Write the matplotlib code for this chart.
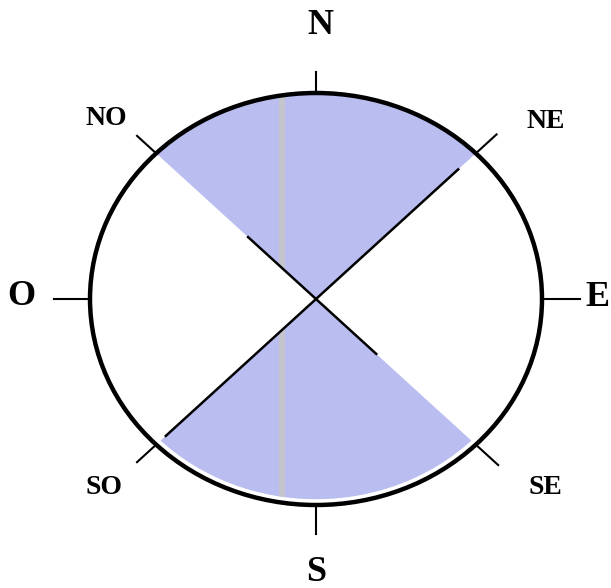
import numpy as np
import matplotlib
matplotlib.use('Agg')
import matplotlib.pyplot as plt
from matplotlib.patches import Circle, Wedge

# compass directions (Spanish labels), angle in degrees from east, counter-clockwise
labels = ['E', 'NE', 'N', 'NO', 'O', 'SO', 'S', 'SE']
angles = [0, 45, 90, 135, 180, 225, 270, 315]
tick_len = [0.17, 0.13, 0.10, 0.12, 0.16, 0.12, 0.14, 0.14]
# label positions in circle-radius units
label_x = [1.245, 1.018, 0.018, -0.929, -1.305, -0.938, 0.0, 1.013]
label_y = [0.005, 0.864, 1.330, 0.874, 0.010, -0.917, -1.330, -0.917]

# shaded sectors (start, end) in degrees
sectors = [(45, 135), (225, 315)]
sector_r = [1.0, 0.972]

# diagonal line segments drawn inside the circle: (angle, r_start, r_end)
diag_segments = [(45, 0.0, 0.89), (225, 0.0, 0.94), (135, 0.0, 0.425), (315, 0.0, 0.377)]

# figure in normalised units: centre at (316, 299) px, radii 226 x 206 px
W, H = 611, 588
cx, cy, rx, ry = 316, 299, 226, 206

fig = plt.figure(figsize=(W / 100, H / 100), dpi=100)
ax = fig.add_axes([0, 0, 1, 1])
ax.set_xlim(-cx / rx, (W - cx) / rx)
ax.set_ylim((cy - H) / ry, cy / ry)
ax.axis('off')

fill = '#b9bdf0'
for (a0, a1), r in zip(sectors, sector_r):
    w = Wedge((0, 0), r, a0, a1, facecolor=fill, edgecolor='none', zorder=1)
    ax.add_patch(w)
    # faint scanner stripe running through the shaded areas
    stripe, = ax.plot([-0.15, -0.15], [-1.05, 1.05], color='#c4c4cc', lw=4.5, zorder=2)
    stripe.set_clip_path(w)

ax.add_patch(Circle((0, 0), 1.0, facecolor='none', edgecolor='black', lw=3.2, zorder=3))

for a, r0, r1 in diag_segments:
    t = np.radians(a)
    ax.plot([r0 * np.cos(t), r1 * np.cos(t)], [r0 * np.sin(t), r1 * np.sin(t)],
            color='black', lw=1.8, zorder=4)

for lab, a, lx, ly, tl in zip(labels, angles, label_x, label_y, tick_len):
    t = np.radians(a)
    ax.plot([np.cos(t), (1 + tl) * np.cos(t)], [np.sin(t), (1 + tl) * np.sin(t)],
            color='black', lw=1.5, zorder=4)
    size = 26 if len(lab) == 1 else 20
    ax.text(lx, ly, lab, ha='center', va='center',
            fontsize=size, fontweight='bold', family='Liberation Serif')

plt.savefig('out.png', dpi=100)
